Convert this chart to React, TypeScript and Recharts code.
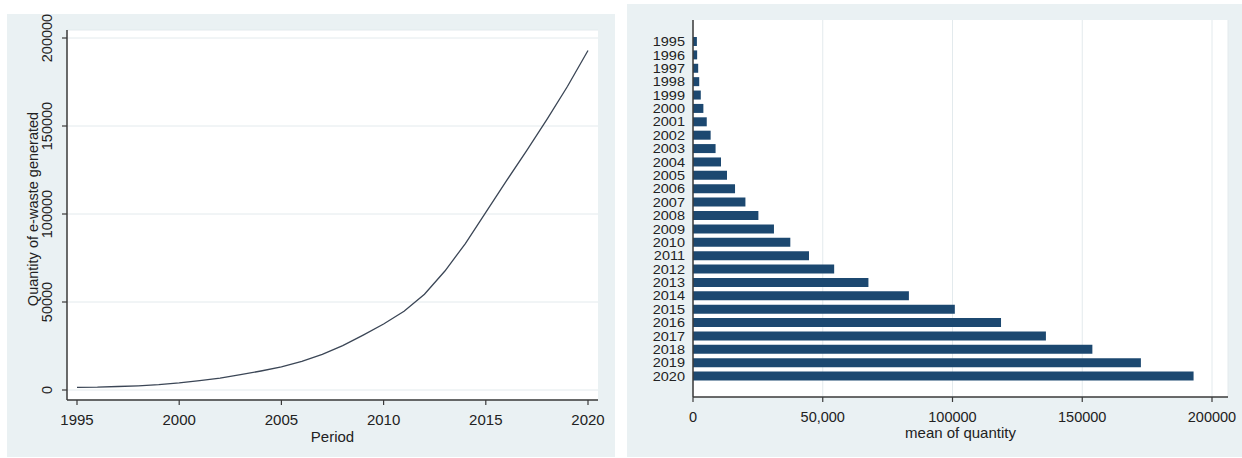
import React from 'react';
import { LineChart, Line, BarChart, Bar, XAxis, YAxis, CartesianGrid } from 'recharts';

// Annual e-waste quantity, 1995–2020
const years = [
  '1995', '1996', '1997', '1998', '1999', '2000', '2001', '2002', '2003',
  '2004', '2005', '2006', '2007', '2008', '2009', '2010', '2011', '2012',
  '2013', '2014', '2015', '2016', '2017', '2018', '2019', '2020',
];
const periods = [
  1995, 1996, 1997, 1998, 1999, 2000, 2001, 2002, 2003, 2004, 2005, 2006, 2007,
  2008, 2009, 2010, 2011, 2012, 2013, 2014, 2015, 2016, 2017, 2018, 2019, 2020,
];
const quantity = [
  1500, 1600, 2000, 2400, 3000, 4000, 5300, 6800, 8700, 10800, 13100, 16200,
  20200, 25200, 31200, 37500, 44700, 54400, 67600, 83200, 100900, 118700,
  136000, 153900, 172600, 192900,
];

const periodTicks = [1995, 2000, 2005, 2010, 2015, 2020];
const quantityTicks = [0, 50000, 100000, 150000, 200000];
const lineTickLabels = ['0', '50000', '100000', '150000', '200000'];
const barTickLabels = ['0', '50,000', '100000', '150000', '200000'];

const lineData = periods.map((p, i) => ({ period: p, quantity: quantity[i] }));
const barData = years.map((y, i) => ({ year: y, quantity: quantity[i] }));

const FONT = '"Liberation Sans", Arial, Helvetica, sans-serif';
const INK = '#222';
const AXIS = '#3a3a3a';
const GRID = '#e3eaed';
const REGION = '#eaf1f3';
const NAVY = '#1c4870';

const labelFor = (labels: string[], v: number) => {
  const i = quantityTicks.indexOf(v);
  return i >= 0 ? labels[i] : String(v);
};

const PeriodTick = (props: any) => {
  const { x, y, payload } = props;
  return (
    <text x={x} y={y} dy="0.71em" textAnchor="middle" fontSize={15} fill={INK} fontFamily={FONT}>
      {payload.value}
    </text>
  );
};

const RotatedQuantityTick = (props: any) => {
  const { x, y, payload } = props;
  return (
    <text
      x={x}
      y={y}
      transform={`rotate(-90 ${x} ${y})`}
      textAnchor="middle"
      fontSize={14.5}
      fill={INK}
      fontFamily={FONT}
    >
      {labelFor(lineTickLabels, payload.value)}
    </text>
  );
};

const MeanTick = (props: any) => {
  const { x, y, payload } = props;
  return (
    <text x={x} y={y} dy="0.71em" textAnchor="middle" fontSize={14.5} fill={INK} fontFamily={FONT}>
      {labelFor(barTickLabels, payload.value)}
    </text>
  );
};

const YearTick = (props: any) => {
  const { x, y, payload } = props;
  return (
    <text
      transform={`translate(${x} ${y}) scale(1 0.86)`}
      x={0}
      y={0}
      dy="0.36em"
      textAnchor="end"
      fontSize={14.5}
      fill={INK}
      fontFamily={FONT}
    >
      {payload.value}
    </text>
  );
};

const QuantityTitle = (props: any) => {
  const vb = props.viewBox || { x: 0, y: 16, width: 60, height: 370 };
  const x = vb.x + 30.5;
  const y = vb.y + vb.height / 2 - 6;
  return (
    <text
      x={x}
      y={y}
      transform={`rotate(-90 ${x} ${y})`}
      textAnchor="middle"
      fontSize={14.5}
      fill={INK}
      fontFamily={FONT}
    >
      Quantity of e-waste generated
    </text>
  );
};

const PeriodTitle = (props: any) => {
  const vb = props.viewBox || { x: 60, y: 386, width: 531, height: 57 };
  return (
    <text x={vb.x + vb.width / 2} y={vb.y + 41.5} textAnchor="middle" fontSize={15} fill={INK} fontFamily={FONT}>
      Period
    </text>
  );
};

const MeanTitle = (props: any) => {
  const vb = props.viewBox || { x: 66, y: 393, width: 535, height: 60 };
  return (
    <text x={vb.x + vb.width / 2} y={vb.y + 41} textAnchor="middle" fontSize={15} fill={INK} fontFamily={FONT}>
      mean of quantity
    </text>
  );
};

export default function App() {
  return (
    <div
      style={{
        position: 'absolute',
        left: 0,
        top: 0,
        width: 1242,
        height: 458,
        background: '#ffffff',
        overflow: 'hidden',
      }}
    >
      {/* Line chart of quantity over time */}
      <div style={{ position: 'absolute', left: 7, top: 14, width: 608, height: 443, background: REGION }}>
        <LineChart width={608} height={443} data={lineData} margin={{ top: 16, right: 17, bottom: 0, left: 0 }}>
          <CartesianGrid horizontal vertical={false} fill="#ffffff" stroke={GRID} strokeWidth={1} />
          <XAxis
            dataKey="period"
            type="number"
            domain={[1995, 2020]}
            ticks={periodTicks}
            padding={{ left: 10, right: 10 }}
            height={57}
            tickSize={5}
            tickMargin={9}
            axisLine={{ stroke: AXIS, strokeWidth: 1.5 }}
            tickLine={{ stroke: AXIS, strokeWidth: 1.2 }}
            tick={<PeriodTick />}
            interval={0}
            label={<PeriodTitle />}
          />
          <YAxis
            type="number"
            domain={[0, 200000]}
            ticks={quantityTicks}
            padding={{ top: 8, bottom: 10 }}
            width={60}
            tickSize={5}
            tickMargin={10}
            axisLine={{ stroke: AXIS, strokeWidth: 1.5 }}
            tickLine={{ stroke: AXIS, strokeWidth: 1.2 }}
            tick={<RotatedQuantityTick />}
            interval={0}
            label={<QuantityTitle />}
          />
          <Line
            type="linear"
            dataKey="quantity"
            stroke="#3b4656"
            strokeWidth={1.3}
            dot={false}
            isAnimationActive={false}
          />
        </LineChart>
      </div>

      {/* Horizontal bars of mean quantity by year */}
      <div style={{ position: 'absolute', left: 627, top: 4, width: 615, height: 453, background: REGION }}>
        <BarChart
          width={615}
          height={453}
          data={barData}
          layout="vertical"
          margin={{ top: 16, right: 14, bottom: 0, left: 0 }}
        >
          <CartesianGrid horizontal={false} vertical fill="#ffffff" stroke={GRID} strokeWidth={1} />
          <XAxis
            type="number"
            dataKey="quantity"
            domain={[0, 200000]}
            ticks={quantityTicks}
            padding={{ left: 0, right: 16 }}
            height={60}
            tickSize={5}
            tickMargin={10}
            axisLine={{ stroke: AXIS, strokeWidth: 1.5 }}
            tickLine={{ stroke: AXIS, strokeWidth: 1.2 }}
            tick={<MeanTick />}
            interval={0}
            label={<MeanTitle />}
          />
          <YAxis
            type="category"
            dataKey="year"
            width={66}
            padding={{ top: 15, bottom: 14 }}
            tickSize={0}
            tickMargin={8}
            axisLine={{ stroke: AXIS, strokeWidth: 1.5 }}
            tickLine={false}
            tick={<YearTick />}
            interval={0}
          />
          <Bar dataKey="quantity" fill={NAVY} barSize={9} isAnimationActive={false} />
        </BarChart>
      </div>
    </div>
  );
}
